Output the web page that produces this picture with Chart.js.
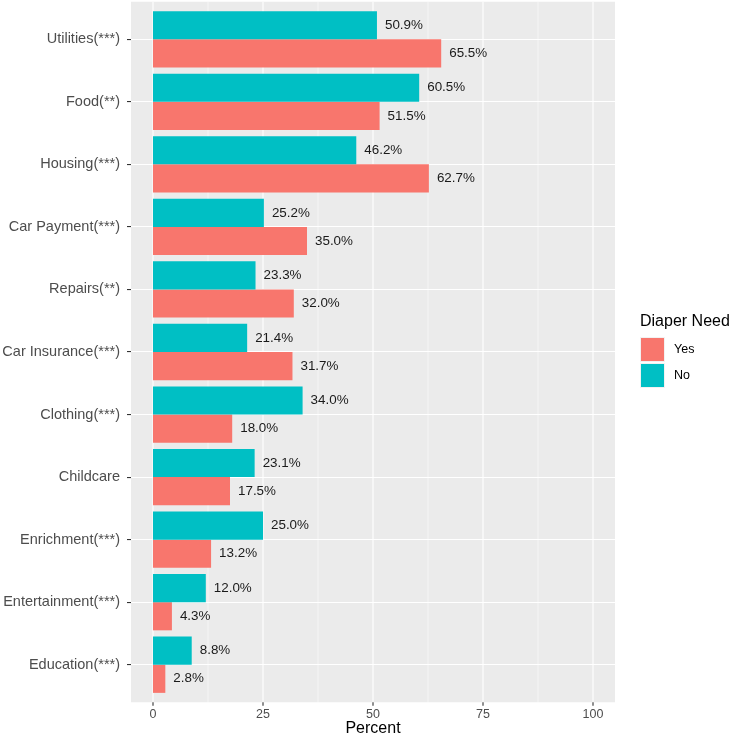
<!DOCTYPE html>
<html>
<head>
<meta charset="utf-8">
<script src="https://cdn.jsdelivr.net/npm/chart.js@4"></script>
<style>
  html, body { margin: 0; padding: 0; background: #fff; }
  #wrap { width: 733px; height: 738px; }
</style>
</head>
<body>
<div id="wrap"><canvas id="chart" width="733" height="738"></canvas></div>
<script>
const categories = [
  'Utilities(***)', 'Food(**)', 'Housing(***)', 'Car Payment(***)', 'Repairs(**)',
  'Car Insurance(***)', 'Clothing(***)', 'Childcare', 'Enrichment(***)',
  'Entertainment(***)', 'Education(***)',
];
const yesValues = [65.5, 51.5, 62.7, 35.0, 32.0, 31.7, 18.0, 17.5, 13.2, 4.3, 2.8];
const noValues = [50.9, 60.5, 46.2, 25.2, 23.3, 21.4, 34.0, 23.1, 25.0, 12.0, 8.8];
const xTicks = [0, 12.5, 25, 37.5, 50, 62.5, 75, 87.5, 100];
const legendItems = [
  { label: 'Yes', color: '#F8766D' },
  { label: 'No', color: '#00BFC4' },
];

const FONT = "'Liberation Sans', Arial, sans-serif";

// ggplot style panel: grey background, vertical grid, tick marks on the panel edge
const panelPlugin = {
  id: 'panel',
  beforeDraw: (chart) => {
    const { ctx, chartArea } = chart;
    const ext = (chartArea.bottom - chartArea.top) / categories.length * 0.1;
    const top = chartArea.top - ext;
    const bottom = chartArea.bottom + ext;
    ctx.save();
    ctx.fillStyle = '#EBEBEB';
    ctx.fillRect(chartArea.left, top, chartArea.right - chartArea.left, bottom - top);
    const xScale = chart.scales.x;
    xTicks.forEach((value) => {
      const x = xScale.getPixelForValue(value);
      const major = value % 25 === 0;
      ctx.strokeStyle = '#FFFFFF';
      ctx.lineWidth = major ? 1.1 : 0.55;
      ctx.beginPath();
      ctx.moveTo(x, top);
      ctx.lineTo(x, bottom);
      ctx.stroke();
      if (major) {
        ctx.strokeStyle = '#333333';
        ctx.lineWidth = 1.1;
        ctx.beginPath();
        ctx.moveTo(x, bottom);
        ctx.lineTo(x, bottom + 3.5);
        ctx.stroke();
      }
    });
    ctx.restore();
  },
  afterDatasetsDraw: (chart) => {
    const { ctx } = chart;
    ctx.save();
    ctx.fillStyle = '#1A1A1A';
    ctx.font = `13.4px ${FONT}`;
    ctx.textAlign = 'left';
    ctx.textBaseline = 'middle';
    chart.data.datasets.forEach((dataset, di) => {
      const meta = chart.getDatasetMeta(di);
      meta.data.forEach((bar, i) => {
        ctx.fillText(`${dataset.data[i].toFixed(1)}%`, bar.x + 8, bar.y);
      });
    });
    ctx.restore();
  },
  afterDraw: (chart) => {
    const { ctx } = chart;
    ctx.save();
    ctx.fillStyle = '#000000';
    ctx.font = `16px ${FONT}`;
    ctx.textAlign = 'left';
    ctx.textBaseline = 'middle';
    ctx.fillText('Diaper Need', 640, 322);
    legendItems.forEach((item, i) => {
      const y = 337 + i * 26;
      ctx.fillStyle = item.color;
      ctx.fillRect(640, y, 25, 25);
      ctx.strokeStyle = '#F2F2F2';
      ctx.lineWidth = 1;
      ctx.strokeRect(640.5, y + 0.5, 24, 24);
      ctx.fillStyle = '#000000';
      ctx.font = `12.5px ${FONT}`;
      ctx.fillText(item.label, 674, y + 13);
    });
    ctx.restore();
  },
};

new Chart(document.getElementById('chart').getContext('2d'), {
  type: 'bar',
  data: {
    labels: categories,
    datasets: [
      {
        label: 'No',
        data: noValues,
        backgroundColor: '#00BFC4',
        categoryPercentage: 0.9,
        barPercentage: 1,
      },
      {
        label: 'Yes',
        data: yesValues,
        backgroundColor: '#F8766D',
        categoryPercentage: 0.9,
        barPercentage: 1,
      },
    ],
  },
  options: {
    indexAxis: 'y',
    responsive: false,
    animation: false,
    layout: { padding: { top: 8, right: 118, left: 0, bottom: 0 } },
    plugins: {
      legend: { display: false },
      tooltip: { enabled: false },
    },
    scales: {
      x: {
        type: 'linear',
        min: -5,
        max: 105,
        afterBuildTicks: (scale) => {
          scale.ticks = xTicks.map((value) => ({ value }));
        },
        afterFit: (scale) => {
          scale.height = 42;
          scale.paddingLeft = 0;
          scale.paddingRight = 0;
        },
        grid: { display: false, drawTicks: false },
        border: { display: false },
        ticks: {
          autoSkip: false,
          maxRotation: 0,
          padding: 11,
          color: '#4D4D4D',
          font: { family: FONT, size: 12.5 },
          callback: (value) => (value % 25 === 0 ? String(value) : ''),
        },
        title: {
          display: true,
          text: 'Percent',
          color: '#000000',
          padding: { top: 0, bottom: 0 },
          font: { family: FONT, size: 16 },
        },
      },
      y: {
        type: 'category',
        afterFit: (scale) => {
          scale.width = 131;
          scale.paddingTop = 0;
          scale.paddingBottom = 0;
        },
        grid: {
          offset: false,
          color: '#FFFFFF',
          lineWidth: 1.1,
          tickColor: '#333333',
          tickLength: 4,
          tickWidth: 1.1,
        },
        border: { display: false },
        ticks: {
          autoSkip: false,
          padding: 7,
          color: '#4D4D4D',
          font: { family: FONT, size: 14.5 },
        },
      },
    },
  },
  plugins: [panelPlugin],
});
</script>
</body>
</html>
